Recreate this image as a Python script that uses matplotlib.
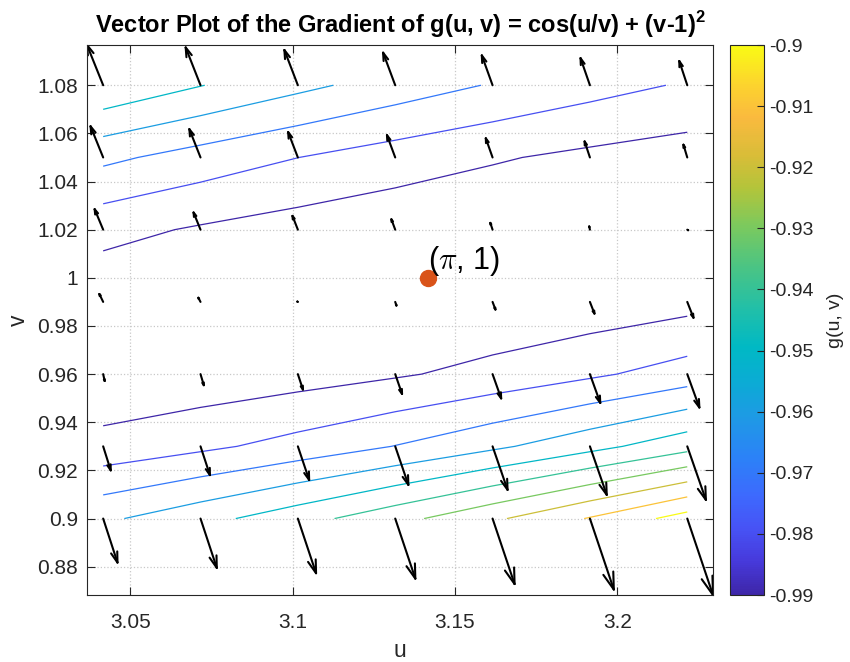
import numpy as np
import matplotlib
matplotlib.use("Agg")
import matplotlib.pyplot as plt
from matplotlib.colors import LinearSegmentedColormap, Normalize
from matplotlib.collections import LineCollection
import matplotlib.cm as cm

plt.rcParams["font.family"] = ["Liberation Sans", "DejaVu Sans"]
plt.rcParams["mathtext.rm"] = "Liberation Sans"
plt.rcParams["mathtext.bf"] = "Liberation Sans:bold"

# sampling grid of u and v (same grid for contour and arrows)
u_grid = np.arange(np.pi - 0.1, np.pi + 0.1, 0.03)
v_grid = np.arange(0.9, 1.1, 0.03)
levels = [-0.99, -0.98, -0.97, -0.96, -0.95, -0.94, -0.93, -0.92, -0.91, -0.90]
cbar_ticks = levels
point_u, point_v = np.pi, 1.0

U, V = np.meshgrid(u_grid, v_grid)
G = np.cos(U / V) + (V - 1) ** 2
dGu = -np.sin(U / V) / V
dGv = np.sin(U / V) * U / V ** 2 + 2 * (V - 1)

# approx of MATLAB parula
parula_pts = [
    (0.00, (0.2422, 0.1504, 0.6603)),
    (0.06, (0.2770, 0.2250, 0.8600)),
    (0.12, (0.2800, 0.3250, 0.9610)),
    (0.18, (0.2400, 0.4150, 0.9950)),
    (0.25, (0.1700, 0.5100, 0.9700)),
    (0.32, (0.1200, 0.6000, 0.9000)),
    (0.39, (0.0400, 0.6750, 0.8300)),
    (0.45, (0.0000, 0.7250, 0.7700)),
    (0.52, (0.1300, 0.7500, 0.6600)),
    (0.60, (0.3000, 0.7700, 0.5100)),
    (0.67, (0.4800, 0.7900, 0.3700)),
    (0.74, (0.7000, 0.7700, 0.2300)),
    (0.80, (0.8500, 0.7400, 0.2200)),
    (0.87, (0.9800, 0.7300, 0.2450)),
    (0.93, (0.9900, 0.8300, 0.1800)),
    (1.00, (0.9769, 0.9839, 0.0805)),
]
parula = LinearSegmentedColormap.from_list("parula", parula_pts)
norm = Normalize(vmin=levels[0], vmax=levels[-1])

fig = plt.figure(figsize=(8.5, 6.62), dpi=100)
W, H = 850, 662
ax = fig.add_axes([87 / W, 1 - 595 / H, 626 / W, 550 / H])
cax = fig.add_axes([730 / W, 1 - 595 / H, 34 / W, 550 / H])

ax.contour(U, V, G, levels=levels, cmap=parula, norm=norm, linewidths=0.9)

# quiver, autoscaled like matlab
n = np.sqrt(U.size)
delx = (U.max() - U.min()) / n
dely = (V.max() - V.min()) / n
maxlen = np.sqrt((dGu ** 2 + dGv ** 2) / (delx ** 2 + dely ** 2)).max()
sc = 0.9 / maxlen
du = dGu * sc
dv = dGv * sc
x0, y0 = U.ravel(), V.ravel()
x1, y1 = (U + du).ravel(), (V + dv).ravel()

xmin, xmax = min(x0.min(), x1.min()), max(x0.max(), x1.max())
ymin, ymax = min(y0.min(), y1.min()), max(y0.max(), y1.max())
sx = 626 / (xmax - xmin)
sy = 550 / (ymax - ymin)

segs = []
for a, b, c, d in zip(x0, y0, x1, y1):
    segs.append([(a, b), (c, d)])
    px, py = (c - a) * sx, (d - b) * sy
    for side in (1, -1):
        hx = c + (-0.23 * px - side * 0.07 * py) / sx
        hy = d + (-0.23 * py + side * 0.07 * px) / sy
        segs.append([(c, d), (hx, hy)])
ax.add_collection(LineCollection(segs, colors="black", linewidths=1.5,
                                 capstyle="round", joinstyle="round"))

ax.plot(point_u, point_v, "o", color="#D95319", markersize=11.5, zorder=5)
ax.text(point_u, point_v, r"($\pi$, 1)", fontsize=22, ha="left", va="bottom",
        math_fontfamily="cm", zorder=6)

ax.set_xlim(xmin, xmax)
ax.set_ylim(ymin, ymax)
ax.set_xticks([3.05, 3.1, 3.15, 3.2])
ax.set_xticklabels(["3.05", "3.1", "3.15", "3.2"])
yt = [0.88, 0.9, 0.92, 0.94, 0.96, 0.98, 1.0, 1.02, 1.04, 1.06, 1.08]
ax.set_yticks(yt)
ax.set_yticklabels(["0.88", "0.9", "0.92", "0.94", "0.96", "0.98", "1",
                    "1.02", "1.04", "1.06", "1.08"])
ax.grid(True, linestyle=":", color="#c8c8c8", linewidth=0.9)
ax.tick_params(direction="in", top=True, right=True, length=6,
               labelsize=15, colors="#262626", labelcolor="#262626")
ax.tick_params(axis="x", pad=13)
ax.tick_params(axis="y", pad=6.5)
for s in ax.spines.values():
    s.set_color("#262626")
ax.set_xlabel("u", fontsize=16.5, color="#262626", labelpad=5)
ax.set_ylabel("v", fontsize=16.5, color="#262626", labelpad=5)
ax.set_title(r"Vector Plot of the Gradient of g(u, v) = cos(u/v) + (v-1)$^{\mathbf{2}}$",
             fontsize=17, fontweight="bold", pad=9, math_fontfamily="custom")

cb = fig.colorbar(cm.ScalarMappable(norm=norm, cmap=parula), cax=cax)
cb.set_ticks(cbar_ticks)
cb.set_ticklabels(["-0.99", "-0.98", "-0.97", "-0.96", "-0.95", "-0.94",
                   "-0.93", "-0.92", "-0.91", "-0.9"])
cb.ax.tick_params(direction="in", length=5, labelsize=14, colors="#262626")
cb.outline.set_edgecolor("#262626")
cb.set_label("g(u, v)", fontsize=14, color="#262626", labelpad=10)

fig.savefig("out.png", dpi=100)
